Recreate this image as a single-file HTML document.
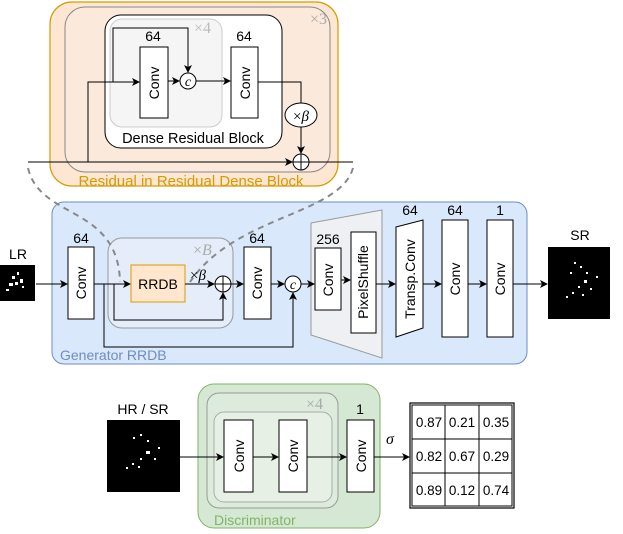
<!DOCTYPE html>
<html><head><meta charset="utf-8"><style>
html,body{margin:0;padding:0;background:#fff;}
svg{display:block;font-family:"Liberation Sans",sans-serif;}
</style></head><body>
<svg width="623" height="534" viewBox="0 0 623 534" xmlns="http://www.w3.org/2000/svg">
<defs>
<marker id="a" markerWidth="8" markerHeight="8" refX="7" refY="4" orient="auto" markerUnits="userSpaceOnUse">
<path d="M0,0 L8,4 L0,8 L2,4 Z" fill="#000"/></marker>
</defs>
<!-- Top RRDB detail -->
<rect x="50" y="2" width="288" height="184" rx="22" fill="#fde6d2" stroke="#d79b00" stroke-width="1.2"/>
<rect x="65" y="7" width="265" height="165" rx="20" fill="#fbe9dc" stroke="#888" stroke-width="1"/>
<text x="310" y="24" font-size="16" fill="#aaa" font-family="Liberation Serif,serif">×3</text>
<rect x="105" y="15" width="177" height="133" rx="16" fill="#fff" stroke="#000" stroke-width="1"/>
<rect x="110" y="19" width="112" height="108" rx="12" fill="#f5f5f5" stroke="#ccc" stroke-width="1"/>
<text x="194" y="33" font-size="16" fill="#bbb" font-family="Liberation Serif,serif">×4</text>
<text x="193" y="143" font-size="14.5" text-anchor="middle">Dense Residual Block</text>
<text x="153" y="41" font-size="14" text-anchor="middle">64</text>
<rect x="140" y="47" width="28" height="71" fill="#fff" stroke="#000"/>
<text transform="translate(159,83) rotate(-90)" font-size="14" text-anchor="middle">Conv</text>
<text x="244" y="41" font-size="14" text-anchor="middle">64</text>
<rect x="231" y="47" width="27" height="71" fill="#fff" stroke="#000"/>
<text transform="translate(250,83) rotate(-90)" font-size="14" text-anchor="middle">Conv</text>
<circle cx="188" cy="81" r="8" fill="#fff" stroke="#000"/>
<text x="188" y="86" font-size="14" font-style="italic" text-anchor="middle" font-family="Liberation Serif,serif">c</text>
<line x1="28" y1="162" x2="353" y2="162" stroke="#000"/>
<polyline points="88,162 88,82 139,82" fill="none" stroke="#000" marker-end="url(#a)"/>
<polyline points="113,82 113,28 188,28 188,72" fill="none" stroke="#000" marker-end="url(#a)"/>
<line x1="168" y1="81" x2="179" y2="81" stroke="#000" marker-end="url(#a)"/>
<line x1="196" y1="81" x2="230" y2="81" stroke="#000" marker-end="url(#a)"/>
<polyline points="258,82 301,82 301,103" fill="none" stroke="#000"/>
<ellipse cx="301" cy="115" rx="16" ry="12" fill="#fff" stroke="#000"/>
<text x="301" y="121" font-size="15" text-anchor="middle" font-family="Liberation Serif,serif">×<tspan font-style="italic">β</tspan></text>
<line x1="301" y1="127" x2="301" y2="153" stroke="#000" marker-end="url(#a)"/>
<line x1="280" y1="162" x2="292" y2="162" stroke="#000" marker-end="url(#a)"/>
<circle cx="301" cy="162" r="8" fill="#fff" stroke="#000"/>
<path d="M293,162H309M301,154V170" stroke="#000"/>
<text x="191" y="186" font-size="15" fill="#d79b00" text-anchor="middle">Residual in Residual Dense Block</text>
<!-- Generator -->
<rect x="52" y="202" width="475" height="162" rx="12" fill="#dae8fc" stroke="#6c8ebf"/>
<text x="60" y="360" font-size="14" fill="#6c8ebf">Generator RRDB</text>
<rect x="108" y="238" width="125" height="90" rx="14" fill="#e4edf9" stroke="#999"/>
<text x="193" y="255" font-size="16" fill="#aaa" font-family="Liberation Serif,serif">×<tspan font-style="italic">B</tspan></text>
<path d="M28,168 C40,220 118,205 120,282" fill="none" stroke="#888" stroke-width="2" stroke-dasharray="6,5"/>
<path d="M353,168 C340,215 235,215 190,282" fill="none" stroke="#888" stroke-width="2" stroke-dasharray="6,5"/>
<rect x="0" y="265" width="35" height="36" fill="#000"/>
<g fill="#fff"><rect x="12" y="276" width="3" height="3"/><rect x="17" y="272" width="2" height="3"/><rect x="9" y="283" width="4" height="3"/><rect x="15" y="282" width="3" height="3"/><rect x="20" y="279" width="3" height="4"/><rect x="6" y="289" width="3" height="2"/><rect x="22" y="286" width="2" height="2"/></g>
<text x="18" y="259" font-size="14" text-anchor="middle">LR</text>
<line x1="36" y1="284" x2="67" y2="284" stroke="#000" marker-end="url(#a)"/>
<text x="81" y="243" font-size="14" text-anchor="middle">64</text>
<rect x="68" y="247" width="26" height="72" fill="#fff" stroke="#000"/>
<text transform="translate(86,283) rotate(-90)" font-size="14" text-anchor="middle">Conv</text>
<line x1="94" y1="284" x2="130" y2="284" stroke="#000" marker-end="url(#a)"/>
<rect x="131" y="265" width="54" height="37" fill="#ffe6cc" stroke="#d79b00"/>
<text x="158" y="289" font-size="14" text-anchor="middle">RRDB</text>
<text x="190" y="280" font-size="15" font-family="Liberation Serif,serif">×<tspan font-style="italic">β</tspan></text>
<line x1="185" y1="284" x2="214" y2="284" stroke="#000" marker-end="url(#a)"/>
<polyline points="114,284 114,320 223,320 223,293" fill="none" stroke="#000" marker-end="url(#a)"/>
<polyline points="104,284 104,347 293,347 293,293" fill="none" stroke="#000" marker-end="url(#a)"/>
<circle cx="223" cy="284" r="8" fill="#fff" stroke="#000"/>
<path d="M215,284H231M223,276V292" stroke="#000"/>
<line x1="231" y1="284" x2="243" y2="284" stroke="#000" marker-end="url(#a)"/>
<text x="257" y="243" font-size="14" text-anchor="middle">64</text>
<rect x="244" y="247" width="27" height="72" fill="#fff" stroke="#000"/>
<text transform="translate(262,283) rotate(-90)" font-size="14" text-anchor="middle">Conv</text>
<line x1="271" y1="284" x2="284" y2="284" stroke="#000" marker-end="url(#a)"/>
<circle cx="293" cy="284" r="8" fill="#fff" stroke="#000"/>
<text x="293" y="289" font-size="14" font-style="italic" text-anchor="middle" font-family="Liberation Serif,serif">c</text>
<polygon points="311,223 382,210 382,358 311,335" fill="#eef0f4" stroke="#999"/>
<line x1="301" y1="284" x2="314" y2="284" stroke="#000" marker-end="url(#a)"/>
<text x="328" y="244" font-size="14" text-anchor="middle">256</text>
<rect x="315" y="248" width="26" height="62" fill="#fff" stroke="#000"/>
<text transform="translate(333,280) rotate(-90)" font-size="14" text-anchor="middle">Conv</text>
<line x1="341" y1="280" x2="350" y2="280" stroke="#000" marker-end="url(#a)"/>
<rect x="351" y="232" width="25" height="101" fill="#fff" stroke="#000"/>
<text transform="translate(368,282) rotate(-90)" font-size="14" text-anchor="middle">PixelShuffle</text>
<line x1="376" y1="284" x2="395" y2="284" stroke="#000" marker-end="url(#a)"/>
<text x="410" y="215" font-size="14" text-anchor="middle">64</text>
<polygon points="396,227 423,220 423,328 396,337" fill="#fff" stroke="#000"/>
<text transform="translate(415,279) rotate(-90)" font-size="14" text-anchor="middle">Transp.Conv</text>
<line x1="423" y1="284" x2="441" y2="284" stroke="#000" marker-end="url(#a)"/>
<text x="455" y="215" font-size="14" text-anchor="middle">64</text>
<rect x="442" y="220" width="26" height="117" fill="#fff" stroke="#000"/>
<text transform="translate(460,279) rotate(-90)" font-size="14" text-anchor="middle">Conv</text>
<line x1="468" y1="284" x2="486" y2="284" stroke="#000" marker-end="url(#a)"/>
<text x="500" y="215" font-size="14" text-anchor="middle">1</text>
<rect x="487" y="220" width="26" height="117" fill="#fff" stroke="#000"/>
<text transform="translate(505,279) rotate(-90)" font-size="14" text-anchor="middle">Conv</text>
<line x1="513" y1="284" x2="547" y2="284" stroke="#000" marker-end="url(#a)"/>
<rect x="548" y="247" width="62" height="72" fill="#000"/>
<g fill="#fff"><rect x="574" y="262" width="2" height="2"/><rect x="580" y="266" width="2" height="2"/><rect x="586" y="272" width="2" height="2"/><rect x="584" y="280" width="3" height="3"/><rect x="578" y="286" width="2" height="2"/><rect x="572" y="292" width="2" height="2"/><rect x="566" y="296" width="2" height="2"/><rect x="590" y="288" width="2" height="2"/><rect x="596" y="276" width="2" height="2"/><rect x="570" y="272" width="2" height="2"/><rect x="582" y="294" width="2" height="2"/></g>
<text x="580" y="240" font-size="14" text-anchor="middle">SR</text>
<!-- Discriminator -->
<rect x="198" y="384" width="182" height="144" rx="16" fill="#d5e8d4" stroke="#82b366"/>
<rect x="207" y="393" width="131" height="115" rx="12" fill="#dcebdb" stroke="#999"/>
<rect x="214" y="412" width="118" height="90" rx="10" fill="#e6f0e5" stroke="#aaa"/>
<text x="306" y="409" font-size="16" fill="#aaa" font-family="Liberation Serif,serif">×4</text>
<text x="214" y="525" font-size="14" fill="#82b366">Discriminator</text>
<rect x="107" y="420" width="73" height="72" fill="#000"/>
<g fill="#fff"><rect x="133" y="437" width="2" height="2"/><rect x="140" y="434" width="2" height="2"/><rect x="147" y="440" width="2" height="2"/><rect x="146" y="451" width="4" height="3"/><rect x="140" y="458" width="2" height="2"/><rect x="132" y="463" width="2" height="2"/><rect x="126" y="467" width="2" height="2"/><rect x="154" y="458" width="2" height="2"/><rect x="158" y="447" width="2" height="2"/><rect x="138" y="466" width="2" height="2"/></g>
<text x="143" y="414" font-size="14" text-anchor="middle">HR / SR</text>
<line x1="180" y1="457" x2="223" y2="457" stroke="#000" marker-end="url(#a)"/>
<rect x="224" y="420" width="29" height="72" fill="#fff" stroke="#000"/>
<text transform="translate(244,456) rotate(-90)" font-size="14" text-anchor="middle">Conv</text>
<line x1="253" y1="457" x2="278" y2="457" stroke="#000" marker-end="url(#a)"/>
<rect x="279" y="420" width="28" height="72" fill="#fff" stroke="#000"/>
<text transform="translate(298,456) rotate(-90)" font-size="14" text-anchor="middle">Conv</text>
<line x1="307" y1="457" x2="346" y2="457" stroke="#000" marker-end="url(#a)"/>
<text x="360" y="414" font-size="14" text-anchor="middle">1</text>
<rect x="347" y="420" width="27" height="72" fill="#fff" stroke="#000"/>
<text transform="translate(366,456) rotate(-90)" font-size="14" text-anchor="middle">Conv</text>
<line x1="374" y1="457" x2="409" y2="457" stroke="#000" marker-end="url(#a)"/>
<text x="386" y="444" font-size="16" font-style="italic" font-family="Liberation Serif,serif">σ</text>
<rect x="410" y="403" width="104" height="105" fill="#fff" stroke="#000" stroke-width="1.2"/>
<rect x="412" y="405" width="100" height="101" fill="none" stroke="#000" stroke-width="1"/>
<path d="M445,405V506M479,405V506M412,439H512M412,473H512" stroke="#000"/>
<g font-size="13.5" text-anchor="middle">
<text x="429" y="427">0.87</text><text x="462" y="427">0.21</text><text x="496" y="427">0.35</text>
<text x="429" y="461">0.82</text><text x="462" y="461">0.67</text><text x="496" y="461">0.29</text>
<text x="429" y="495">0.89</text><text x="462" y="495">0.12</text><text x="496" y="495">0.74</text>
</g>
</svg>
</body></html>
